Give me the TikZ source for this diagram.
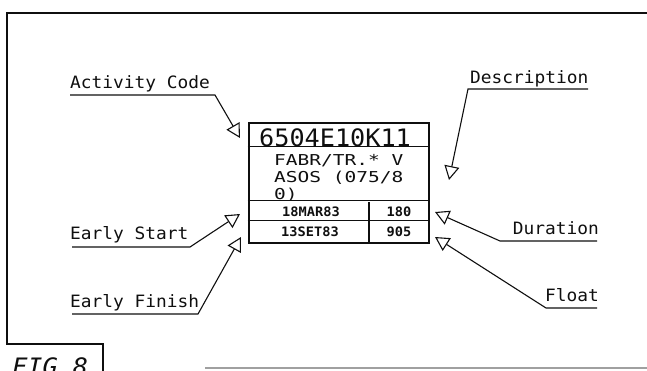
\documentclass[tikz,border=0pt]{standalone}
\usepackage{fontspec}
\usepackage{tikz}
\usetikzlibrary{arrows.meta, positioning, calc}
\newfontfamily\draftfont{DejaVu Sans Mono}[FakeStretch=1.05]
\newfontfamily\descfont{DejaVu Sans Mono}[FakeStretch=1.3]
\definecolor{ink}{RGB}{15,15,15}
\definecolor{edgegray}{RGB}{160,160,160}
\tikzset{
  lbl/.style={inner sep=0pt, font=\draftfont\fontsize{17}{17}\selectfont, text=ink},
  codetxt/.style={inner sep=0pt, font=\draftfont\fontsize{24}{24}\selectfont, text=ink},
  desctxt/.style={inner sep=0pt, font=\descfont\fontsize{15}{17}\selectfont, text=ink},
  celltxt/.style={inner sep=0pt, font=\draftfont\bfseries\fontsize{13}{13}\selectfont, text=ink},
  figtxt/.style={inner sep=0pt, font=\draftfont\itshape\fontsize{24}{24}\selectfont, text=ink},
  card/.style={draw=ink, line width=2.6pt, minimum width=180pt, minimum height=120pt, inner sep=0pt},
  rule/.style={line width=1.3pt, color=ink},
  frame/.style={line width=1.5pt, color=ink},
  leader/.style={-{Triangle[open, length=14pt, width=15pt]}, line width=1.1pt, color=ink}
}
\begin{document}
\begin{tikzpicture}[x=1pt, y=-1pt]
  \useasboundingbox (0,0) rectangle (647,370);
  \clip (0,0) rectangle (647,370);

  % sheet frame
  \draw[frame] (650,13) -- (7,13) -- (7,344) -- (103,344) -- (103,375);
  \draw[frame, color=edgegray, line width=2pt] (205,368) -- (650,368);
  \node[figtxt, anchor=base west] (fig) at (12,375) {FIG 8};

  % activity card
  \node[card] (card) at (339,183) {};
  \draw[rule] ($(card.north west)+(0,25)$) -- ($(card.north east)+(0,25)$);
  \draw[rule] ($(card.north west)+(0,79)$) -- ($(card.north east)+(0,79)$);
  \draw[rule] ($(card.north west)+(0,99)$) -- ($(card.north east)+(0,99)$);
  \draw[rule] (369,202) -- (card.south -| 369,0);

  \node[codetxt, anchor=base west] (code) at (259,146) {6504E10K11};
  \node[desctxt, anchor=base west] (desc1) at (274,165) {FABR/TR.* V};
  \node[desctxt, anchor=base west] (desc2) at (274,182) {ASOS (075/8};
  \node[desctxt, anchor=base west] (desc3) at (274,199) {0)};
  \node[celltxt, anchor=base] (start) at (311,216.5) {18MAR83};
  \node[celltxt, anchor=base] (dur) at (399,216.5) {180};
  \node[celltxt, anchor=base] (finish) at (310,236) {13SET83};
  \node[celltxt, anchor=base] (float) at (399,236) {905};

  % labels
  \node[lbl, anchor=base west] (actlbl) at (70,88) {Activity Code};
  \node[lbl, anchor=base west] (desclbl) at (470,83) {Description};
  \node[lbl, anchor=base west] (eslbl) at (70,239) {Early Start};
  \node[lbl, anchor=base west] (eflbl) at (70,307) {Early Finish};
  \node[lbl, anchor=base east] (durlbl) at (599,234) {Duration};
  \node[lbl, anchor=base east] (fllbl) at (599,301) {Float};

  % leader points
  \coordinate (act0) at (70,95);   \coordinate (act1) at (215,95);   \coordinate (act2) at (240,138);
  \coordinate (desc0) at (588,89); \coordinate (desc1p) at (468,89); \coordinate (desc2p) at (449,180);
  \coordinate (es0) at (72,247);   \coordinate (es1) at (190,247);   \coordinate (es2) at (240,214);
  \coordinate (ef0) at (72,314);   \coordinate (ef1) at (198,314);   \coordinate (ef2) at (241,237);
  \coordinate (dur0) at (597,241); \coordinate (dur1) at (500,241);  \coordinate (dur2) at (435,212);
  \coordinate (fl0) at (597,308);  \coordinate (fl1) at (546,308);   \coordinate (fl2) at (435,237);

  % leaders
  \draw[leader] (act0) -- (act1) -- (act2);
  \draw[leader] (desc0) -- (desc1p) -- (desc2p);
  \draw[leader] (es0) -- (es1) -- (es2);
  \draw[leader] (ef0) -- (ef1) -- (ef2);
  \draw[leader] (dur0) -- (dur1) -- (dur2);
  \draw[leader] (fl0) -- (fl1) -- (fl2);
\end{tikzpicture}
\end{document}
